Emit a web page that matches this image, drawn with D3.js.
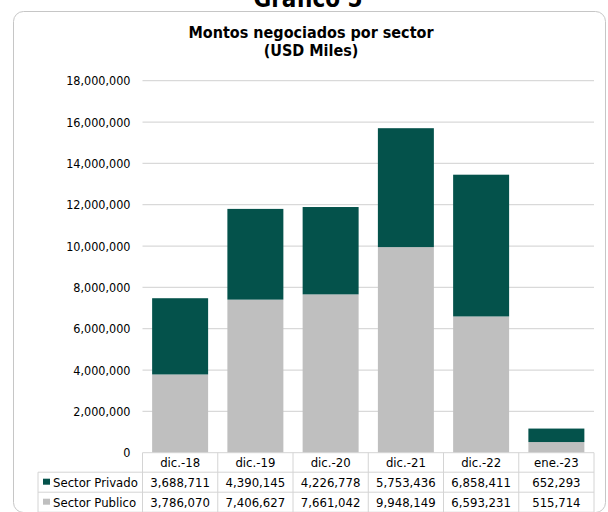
<!DOCTYPE html>
<meta charset="utf-8"/>
<html>
  <head>
    <script src="https://d3js.org/d3.v7.min.js"></script>
    <style>
      body { margin: 0; background: #fff; }
      text { font-family: 'DejaVu Sans', sans-serif; font-stretch: condensed; fill: #000; }
    </style>
  </head>
  <body>
<script type="text/javascript">
// data
var categories = ['dic.-18', 'dic.-19', 'dic.-20', 'dic.-21', 'dic.-22', 'ene.-23'];
var privado = [3688711, 4390145, 4226778, 5753436, 6858411, 652293];
var publico = [3786070, 7406627, 7661042, 9948149, 6593231, 515714];
var seriesNames = ['Sector Privado', 'Sector Publico'];
var seriesColors = ['#04524b', '#bfbfbf'];

var width = 608, height = 512;
var plotLeft = 142.5, plotRight = 594, plotTop = 80.7, plotBottom = 452.7;
var rowH = 20;

var svg = d3.select('body').append('svg')
    .attr('width', width)
    .attr('height', height);

// card
svg.append('rect')
    .attr('x', 13.5).attr('y', 11.5)
    .attr('width', 592).attr('height', 501)
    .attr('rx', 10)
    .attr('fill', 'white')
    .attr('stroke', '#c6c6c6');

// outer title, cut off at the top like in the source
svg.append('text')
    .attr('x', 308).attr('y', 7)
    .attr('text-anchor', 'middle')
    .style('font-size', '24px').style('font-weight', 'bold')
    .text('Grafico 5');

svg.append('text')
    .attr('x', 311).attr('y', 38)
    .attr('text-anchor', 'middle')
    .style('font-size', '16px').style('font-weight', 'bold')
    .text('Montos negociados por sector');
svg.append('text')
    .attr('x', 311).attr('y', 56)
    .attr('text-anchor', 'middle')
    .style('font-size', '16px').style('font-weight', 'bold')
    .text('(USD Miles)');

var x = d3.scaleBand()
    .domain(categories)
    .range([plotLeft, plotRight])
    .paddingInner(0.256)
    .paddingOuter(0.128);
var y = d3.scaleLinear()
    .domain([0, 18000000])
    .range([plotBottom, plotTop]);

var fmt = d3.format(',');

// gridlines
svg.append('g')
    .selectAll('line')
    .data(y.ticks(9).filter(function(d) { return d > 0; }))
    .enter()
    .append('line')
    .attr('x1', plotLeft).attr('x2', plotRight)
    .attr('y1', function(d) { return y(d); })
    .attr('y2', function(d) { return y(d); })
    .attr('stroke', '#d9d9d9')
    .attr('stroke-width', 1.3);

// y axis labels
var yAxis = svg.append('g')
    .attr('transform', 'translate(' + (plotLeft - 12) + ',0)')
    .call(d3.axisLeft(y).ticks(9).tickFormat(fmt).tickSize(0).tickPadding(0));
yAxis.select('.domain').remove();
yAxis.selectAll('text').style('font-size', '12.5px').attr('fill', '#000');

// stacked bars
var rows = categories.map(function(c, i) { return {cat: c, privado: privado[i], publico: publico[i]}; });
var stack = d3.stack().keys(['publico', 'privado'])(rows);
var colorOf = {publico: seriesColors[1], privado: seriesColors[0]};

svg.append('g')
    .selectAll('g')
    .data(stack)
    .enter()
    .append('g')
    .attr('fill', function(s) { return colorOf[s.key]; })
    .selectAll('rect')
    .data(function(s) { return s; })
    .enter()
    .append('rect')
    .attr('x', function(d) { return x(d.data.cat); })
    .attr('width', x.bandwidth())
    .attr('y', function(d) { return y(d[1]); })
    .attr('height', function(d) { return y(d[0]) - y(d[1]); });

// data table under the axis
var lineColor = '#d4d4d4';
var table = svg.append('g');
var tableTop = plotBottom;
var step = x.step();
var cellLeft = function(c) { return x(c) - x.paddingOuter() * step; };

// horizontal lines
table.append('line')
    .attr('x1', plotLeft).attr('x2', plotRight)
    .attr('y1', tableTop).attr('y2', tableTop)
    .attr('stroke', lineColor);
[1, 2, 3].forEach(function(r) {
  table.append('line')
      .attr('x1', 38).attr('x2', plotRight)
      .attr('y1', tableTop + r * rowH - 0.5).attr('y2', tableTop + r * rowH - 0.5)
      .attr('stroke', lineColor);
});
// vertical lines
table.selectAll('line.v')
    .data(categories.concat(['end']))
    .enter()
    .append('line')
    .attr('class', 'v')
    .attr('x1', function(c, i) { return plotLeft + i * step; })
    .attr('x2', function(c, i) { return plotLeft + i * step; })
    .attr('y1', tableTop).attr('y2', tableTop + 3 * rowH)
    .attr('stroke', lineColor);
table.append('line')
    .attr('x1', 38).attr('x2', 38)
    .attr('y1', tableTop + rowH - 0.5).attr('y2', tableTop + 3 * rowH)
    .attr('stroke', lineColor);

// header row
table.selectAll('text.h')
    .data(categories)
    .enter()
    .append('text')
    .attr('class', 'h')
    .attr('x', function(c) { return cellLeft(c) + step / 2; })
    .attr('y', tableTop + 14.5)
    .attr('text-anchor', 'middle')
    .style('font-size', '13px')
    .text(function(c) { return c; });

// value rows
[privado, publico].forEach(function(vals, r) {
  var ty = tableTop + (r + 1) * rowH + 14.5;
  table.append('rect')
      .attr('x', 43).attr('y', ty - 8.5)
      .attr('width', 7).attr('height', 6)
      .attr('fill', seriesColors[r]);
  table.append('text')
      .attr('x', 53).attr('y', ty)
      .style('font-size', '13px')
      .text(seriesNames[r]);
  table.selectAll('text.r' + r)
      .data(vals)
      .enter()
      .append('text')
      .attr('class', 'r' + r)
      .attr('x', function(v, i) { return cellLeft(categories[i]) + step / 2; })
      .attr('y', ty)
      .attr('text-anchor', 'middle')
      .style('font-size', '13px')
      .text(function(v) { return fmt(v); });
});
</script>
  </body>
</html>
